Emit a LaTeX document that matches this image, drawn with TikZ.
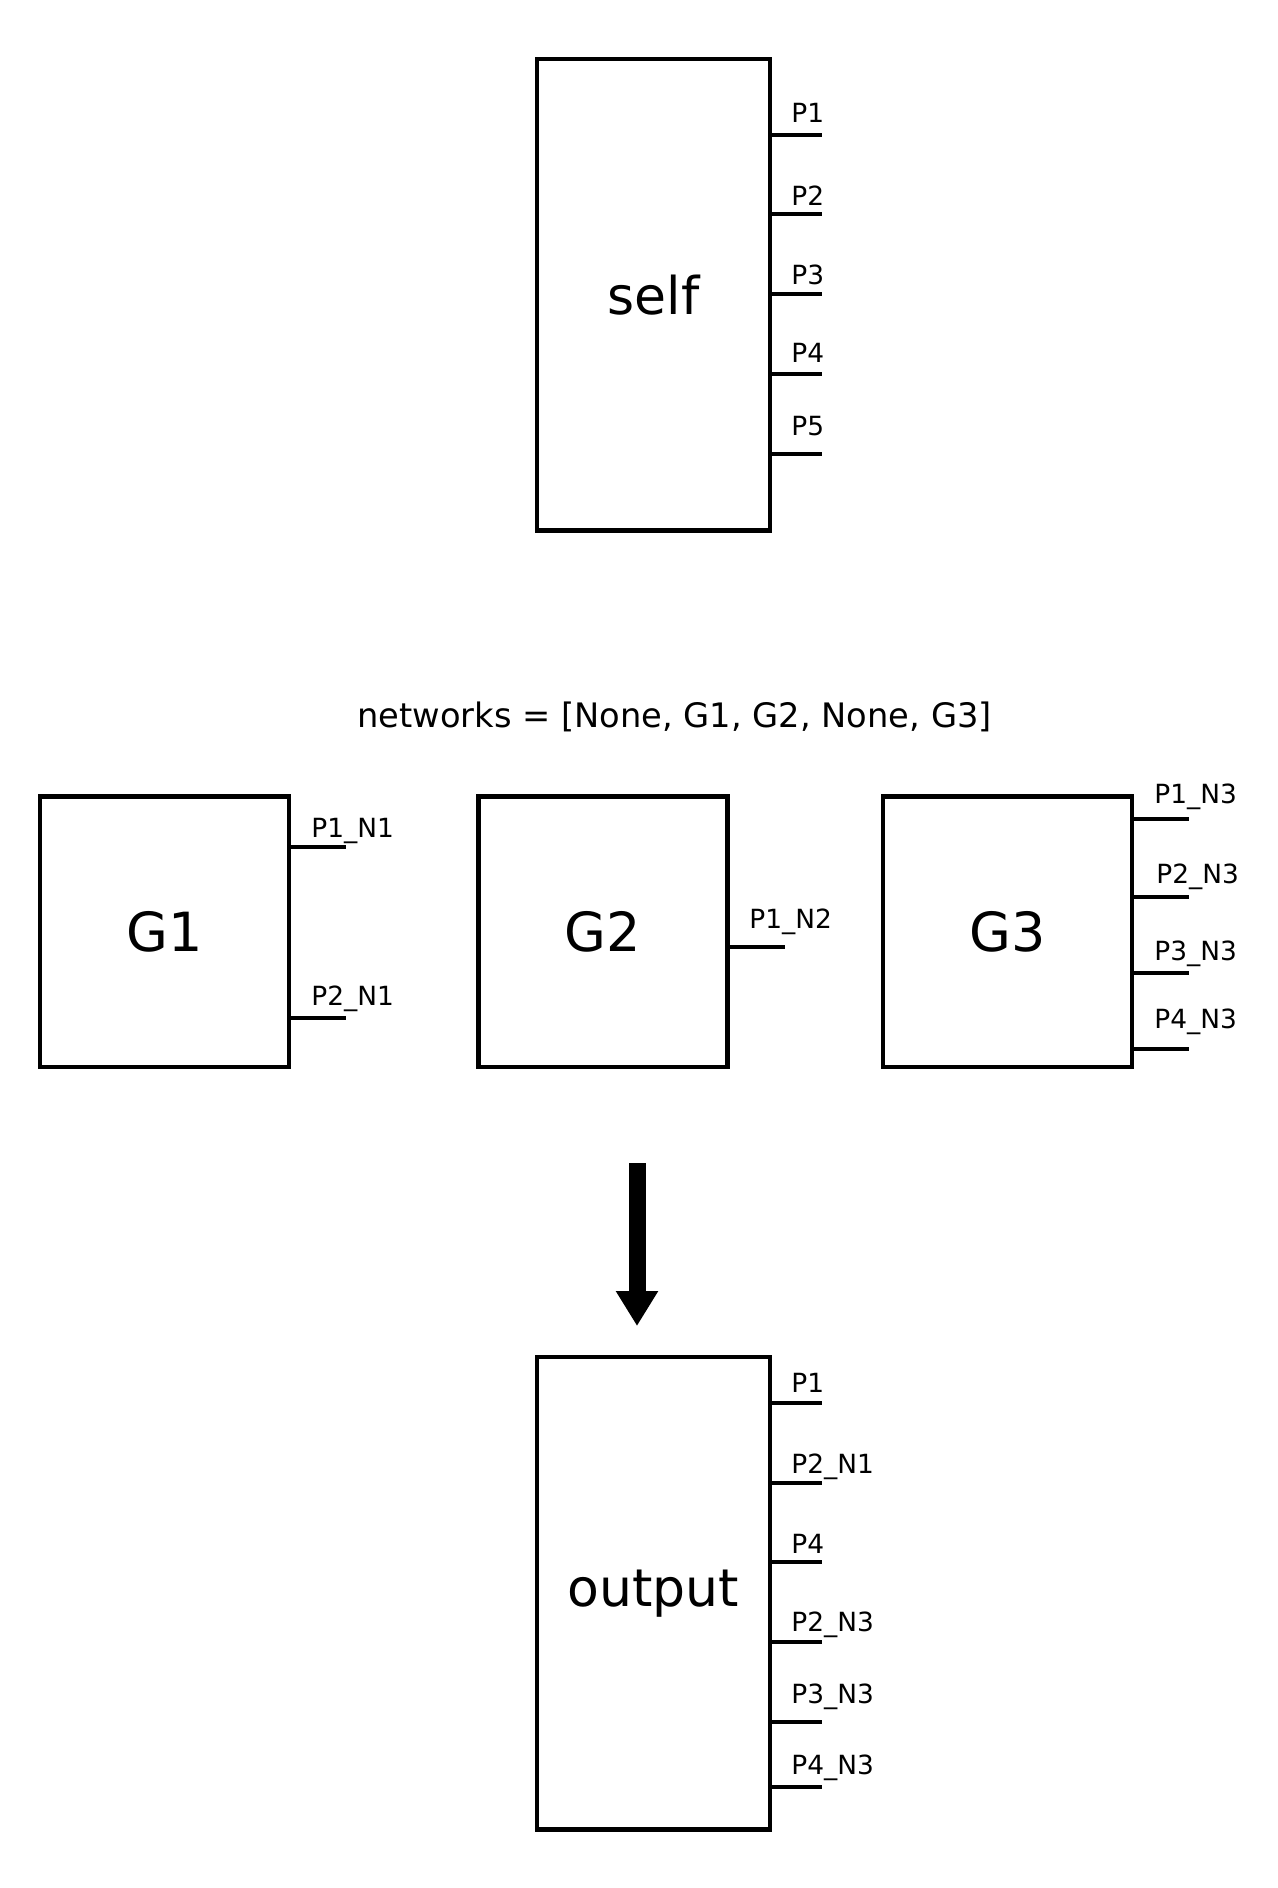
\documentclass[tikz,border=0pt]{standalone}
\usepackage{fontspec}
\setmainfont{DejaVu Sans}
\usetikzlibrary{arrows.meta}
\begin{document}
\begin{tikzpicture}[x=0.5pt,y=-0.5pt,
  box/.style={draw, line width=2.4pt, inner sep=0pt, outer sep=0pt, font=\fontsize{27}{31}\selectfont},
  tallbox/.style={box, font=\fontsize{26}{30}\selectfont},
  stub/.style={line width=2.3pt},
  plabel/.style={anchor=base west, inner sep=0pt, font=\fontsize{13.2}{15}\selectfont}]
\useasboundingbox[fill=white] (0,0) rectangle (1278,1888);

% self block
\node[tallbox, minimum width=116.5pt, minimum height=235.75pt] (self) at (653.5,294.75) {self};
\foreach \y/\b/\t in {135/123/P1, 214/206/P2, 294/285/P3, 374/363/P4, 454/435/P5}{
  \draw[stub] (self.east |- 0,\y) -- ++(52,0);
  \node[plabel] at (791,\b) {\t};
}

% caption
\node[anchor=base, inner sep=0pt, font=\fontsize{16.85}{20}\selectfont] (cap) at (674.5,727) {networks = [None, G1, G2, None, G3]};

% G1
\node[box, minimum width=124.5pt, minimum height=135.25pt] (g1) at (164.5,931.75) {G1};
\foreach \y/\b/\t in {847/837/P1\_N1, 1018/1005/P2\_N1}{
  \draw[stub] (g1.east |- 0,\y) -- ++(57,0);
  \node[plabel] at (311,\b) {\t};
}
% G2
\node[box, minimum width=124.5pt, minimum height=135.25pt] (g2) at (603,931.75) {G2};
\draw[stub] (g2.east |- 0,947) -- ++(57,0);
\node[plabel] at (749,928) {P1\_N2};
% G3
\node[box, minimum width=124.5pt, minimum height=135.25pt] (g3) at (1007.5,931.75) {G3};
\foreach \y/\b/\x/\t in {819/803/1154/P1\_N3, 897/883/1156/P2\_N3, 973/960/1154/P3\_N3, 1049/1028/1154/P4\_N3}{
  \draw[stub] (g3.east |- 0,\y) -- ++(57,0);
  \node[plabel] at (\x,\b) {\t};
}

% arrow
\coordinate (atop) at (637,1163);
\coordinate (atip) at (637,1326);
\draw[line width=8.5pt, -{Triangle[width=20pt,length=17.5pt]}] (atop) -- (atip);

% output block
\node[tallbox, minimum width=116.5pt, minimum height=236.25pt] (out) at (653.5,1593.25) {output};
\foreach \y/\b/\t in {1403/1392/P1, 1483/1473/P2\_N1, 1562/1553/P4, 1642/1631/P2\_N3, 1722/1703/P3\_N3, 1787/1774/P4\_N3}{
  \draw[stub] (out.east |- 0,\y) -- ++(52,0);
  \node[plabel] at (791,\b) {\t};
}
\end{tikzpicture}
\end{document}
